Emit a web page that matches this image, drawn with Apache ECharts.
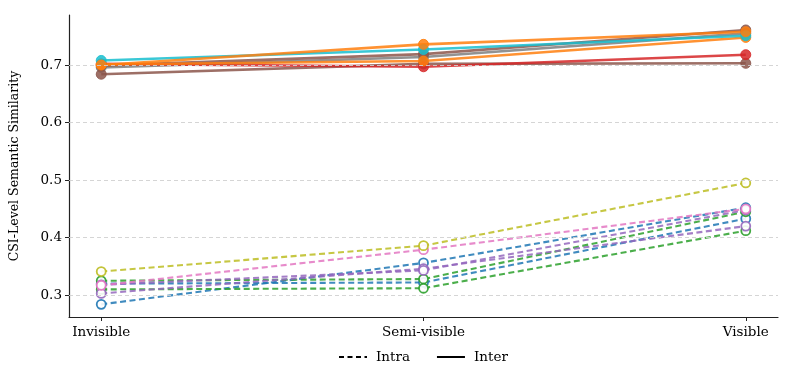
<!DOCTYPE html>
<html><head><meta charset="utf-8">
<script src="https://cdn.jsdelivr.net/npm/echarts@6/dist/echarts.min.js"></script>
<style>html,body{margin:0;padding:0;background:#fff}#c{width:792px;height:386px}</style>
</head><body><div id="c"></div>
<script>
const categories = ['Invisible', 'Semi-visible', 'Visible'];
const yTicks = [0.3, 0.4, 0.5, 0.6, 0.7];

// Intra (dashed, hollow markers)
const intraOlive   = [0.341, 0.386, 0.495];
const intraPink    = [0.317, 0.379, 0.450];
const intraBlueA   = [0.284, 0.356, 0.452];
const intraBlueB   = [0.320, 0.322, 0.433];
const intraPurpleA = [0.303, 0.346, 0.420];
const intraPurpleB = [0.318, 0.343, 0.448];
const intraGreenA  = [0.325, 0.328, 0.445];
const intraGreenB  = [0.310, 0.312, 0.412];

// Inter (solid, filled markers)
const interOrangeA = [0.700, 0.736, 0.758];
const interCyan    = [0.708, 0.727, 0.751];
const interBrownA  = [0.699, 0.719, 0.761];
const interGray    = [0.696, 0.714, 0.755];
const interOrangeB = [0.701, 0.707, 0.748];
const interRed     = [0.702, 0.697, 0.718];
const interBrownB  = [0.684, 0.702, 0.703];

const intraSeries = [
  ['#1f77b4', intraBlueA], ['#1f77b4', intraBlueB],
  ['#2ca02c', intraGreenA], ['#2ca02c', intraGreenB],
  ['#9467bd', intraPurpleA], ['#9467bd', intraPurpleB],
  ['#e377c2', intraPink], ['#bcbd22', intraOlive]
];
const interSeries = [
  ['#7f7f7f', interGray], ['#8c564b', interBrownB], ['#8c564b', interBrownA],
  ['#d62728', interRed], ['#ff7f0e', interOrangeB], ['#17becf', interCyan],
  ['#ff7f0e', interOrangeA]
];

const FONT = '"DejaVu Serif", serif';
const toData = arr => arr.map((v, i) => [i, v]);

const series = [];
series.push({
  type: 'line', data: [], z: 0, silent: true, symbol: 'none',
  markLine: {
    silent: true, symbol: 'none', label: {show: false},
    lineStyle: {color: '#d0d0d0', type: [4, 3], width: 0.9},
    data: yTicks.map(v => ({yAxis: v}))
  }
});
intraSeries.forEach(([c, arr]) => series.push({
  type: 'line', data: toData(arr), symbol: 'circle', symbolSize: 9,
  lineStyle: {color: c, width: 2.1, type: [6, 3.5], opacity: 0.85},
  itemStyle: {color: '#ffffff', borderColor: c, borderWidth: 1.8, opacity: 0.9},
  emphasis: {disabled: true}, z: 3
}));
interSeries.forEach(([c, arr]) => series.push({
  type: 'line', data: toData(arr), symbol: 'circle', symbolSize: 10,
  lineStyle: {color: c, width: 2.6, opacity: 0.85},
  itemStyle: {color: c, borderColor: c, borderWidth: 1, opacity: 0.85},
  emphasis: {disabled: true}, z: 4
}));
series.push({name: 'Intra', type: 'line', data: [], symbol: 'none',
  lineStyle: {color: '#000', width: 2, type: [5, 3.5]}, itemStyle: {color: '#000'}});
series.push({name: 'Inter', type: 'line', data: [], symbol: 'none',
  lineStyle: {color: '#000', width: 2.6}, itemStyle: {color: '#000'}});

const chart = echarts.init(document.getElementById('c'), null, {renderer: 'canvas'});
chart.setOption({
  animation: false,
  backgroundColor: '#fff',
  grid: {left: 67, right: 14, top: 15, bottom: 69, containLabel: false},
  legend: {
    data: ['Intra', 'Inter'], top: 345, left: 333,
    itemWidth: 28, itemHeight: 12, itemGap: 26,
    itemStyle: {opacity: 0},
    textStyle: {fontFamily: FONT, fontSize: 13.5, color: '#000', padding: [0, 0, 0, 4]}
  },
  xAxis: {
    type: 'value', min: -0.1, max: 2.1,
    axisLine: {show: true, onZero: false, lineStyle: {color: '#222', width: 1.2}},
    axisTick: {show: true, customValues: [0, 1, 2], length: 4, lineStyle: {color: '#222'}},
    axisLabel: {customValues: [0, 1, 2], formatter: v => categories[Math.round(v)],
      fontFamily: FONT, fontSize: 13.5, color: '#000', margin: 8},
    splitLine: {show: false}
  },
  yAxis: {
    type: 'value', min: 0.262, max: 0.787,
    name: 'CSI-Level Semantic Similarity', nameLocation: 'middle', nameGap: 48,
    nameTextStyle: {fontFamily: FONT, fontSize: 12.5, color: '#000'},
    axisLine: {show: true, onZero: false, lineStyle: {color: '#222', width: 1.2}},
    axisTick: {show: true, customValues: yTicks, length: 4, lineStyle: {color: '#222'}},
    axisLabel: {customValues: yTicks, formatter: v => v.toFixed(1),
      fontFamily: FONT, fontSize: 13.5, color: '#000', margin: 7},
    splitLine: {show: false}
  },
  series: series
});
</script></body></html>
